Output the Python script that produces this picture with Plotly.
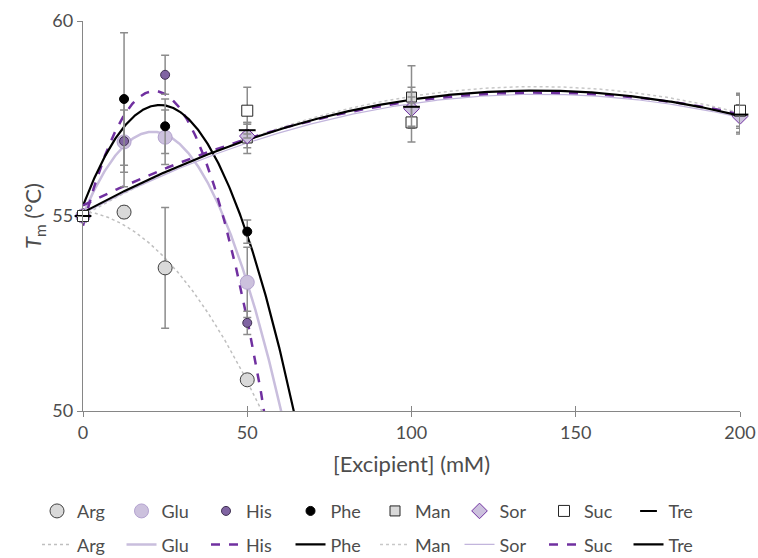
import numpy as np
import plotly.graph_objects as go

# ---------------- data ----------------
amino_x = [0, 12.5, 25, 50]
sugar_x = [0, 50, 100, 200]

arg_y = [55.0, 55.1, 53.67, 50.8]
arg_err = [0, 0.15, 1.55, 0.1]
glu_y = [55.0, 56.9, 57.02, 53.3]
glu_err = [0, 1.15, 0.7, 0.9]
his_y = [55.0, 56.92, 58.62, 52.26]
his_err = [0, 0.8, 0.5, 0.3]
phe_y = [55.0, 58.0, 57.3, 54.6]
phe_err = [0, 1.7, 0.7, 0.3]

man_y = [55.0, 57.0, 58.05, 57.65]
man_err = [0, 0.4, 0.8, 0.5]
sor_y = [55.0, 57.05, 57.75, 57.55]
sor_err = [0, 0.3, 0.3, 0.3]
suc_y = [55.0, 57.7, 57.4, 57.7]
suc_err = [0, 0.6, 0.5, 0.4]
tre_y = [55.0, 57.2, 57.8, 57.6]
tre_err = [0, 0.2, 0.5, 0.5]

x_ticks = [0, 50, 100, 150, 200]
y_ticks = [50, 55, 60]

FONT = "Lato"
TXT = "#4D4D4D"
AX = "#868686"
ERR = "#8C8C8C"

fig = go.Figure()

def trend(xs, ys):
    c = np.polyfit(xs, ys, 2)
    xx = np.linspace(0, 200, 801)
    return xx, np.polyval(c, xx)

series = [
    ("Arg", amino_x, arg_y, arg_err,
     dict(symbol="circle", size=14, color="#D9D9D9", line=dict(color="#404040", width=1)),
     dict(color="#BFBFBF", width=1.5, dash="dot")),
    ("Glu", amino_x, glu_y, glu_err,
     dict(symbol="circle", size=14, color="#CCC1DD", line=dict(color="#B3A2CF", width=1)),
     dict(color="#C9BEDD", width=2.5, dash="solid")),
    ("His", amino_x, his_y, his_err,
     dict(symbol="circle", size=9, color="#8064A2", line=dict(color="#3F3151", width=1)),
     dict(color="#7030A0", width=2.5, dash="dash")),
    ("Phe", amino_x, phe_y, phe_err,
     dict(symbol="circle", size=9, color="#000000", line=dict(color="#000000", width=1)),
     dict(color="#000000", width=2.2, dash="solid")),
    ("Man", sugar_x, man_y, man_err,
     dict(symbol="square", size=10, color="#D9D9D9", line=dict(color="#262626", width=1)),
     dict(color="#C8C8C8", width=1.5, dash="dot")),
    ("Sor", sugar_x, sor_y, sor_err,
     dict(symbol="diamond", size=12, color="#CCC1DD", line=dict(color="#7030A0", width=1)),
     dict(color="#C2B5DC", width=1.2, dash="solid")),
    ("Suc", sugar_x, suc_y, suc_err,
     dict(symbol="square", size=11, color="#FFFFFF", line=dict(color="#262626", width=1)),
     dict(color="#7030A0", width=2.5, dash="dash")),
    ("Tre", sugar_x, tre_y, tre_err,
     dict(symbol="line-ew", size=12, color="#000000", line=dict(color="#000000", width=2)),
     dict(color="#000000", width=2.2, dash="solid")),
]

# trend lines (second legend row)
for name, xs, ys, err, mk, ln in series:
    xx, yy = trend(xs, ys)
    fig.add_trace(go.Scatter(x=xx, y=yy, mode="lines", name=name, line=ln,
                             legend="legend2", hoverinfo="skip"))

# markers with error bars (first legend row)
for name, xs, ys, err, mk, ln in series:
    fig.add_trace(go.Scatter(x=xs, y=ys, mode="markers", name=name, marker=mk,
                             error_y=dict(type="data", array=err, color=ERR,
                                          thickness=1.5, width=4),
                             cliponaxis=False, legend="legend"))

# empty trace carrying the overlay axis that draws the inward half of the crossing x ticks
fig.add_trace(go.Scatter(x=[], y=[], xaxis="x2", yaxis="y", showlegend=False, hoverinfo="skip"))

fig.update_layout(
    width=758, height=558,
    margin=dict(l=83, r=18, t=21, b=147, autoexpand=False),
    paper_bgcolor="white", plot_bgcolor="white",
    font=dict(family=FONT, size=18, color=TXT),
    xaxis=dict(range=[0, 200], tickvals=x_ticks, showgrid=False, zeroline=False,
               showline=True, linecolor=AX, linewidth=1.3, automargin=False,
               ticks="outside", ticklen=5, tickcolor=AX, tickwidth=1.3,
               ticklabeloverflow="allow",
               title=dict(text="[Excipient] (mM)", standoff=14),
               tickfont=dict(size=18, color=TXT)),
    xaxis2=dict(range=[0, 200], tickvals=x_ticks, overlaying="x", anchor="y", side="bottom",
                showgrid=False, zeroline=False, showline=False, showticklabels=False,
                ticks="inside", ticklen=5, tickcolor=AX, tickwidth=1.3, automargin=False),
    yaxis=dict(range=[50, 60], tickvals=y_ticks, showgrid=False, zeroline=False,
               showline=True, linecolor=AX, linewidth=1.3, automargin=False,
               ticks="outside", ticklen=5, tickcolor=AX, tickwidth=1.3,
               ticklabeloverflow="allow",
               title=dict(text="<i>T</i><sub>m</sub> (°C)", standoff=4),
               tickfont=dict(size=18, color=TXT)),
    legend=dict(orientation="h", x=-0.07, xanchor="left", y=-0.257, yanchor="middle",
                entrywidth=39.5, font=dict(size=18, color=TXT), bgcolor="rgba(0,0,0,0)"),
    legend2=dict(orientation="h", x=-0.07, xanchor="left", y=-0.343, yanchor="middle",
                 entrywidth=39.5, font=dict(size=18, color=TXT), bgcolor="rgba(0,0,0,0)"),
    showlegend=True,
)

fig.write_html("out.html")
